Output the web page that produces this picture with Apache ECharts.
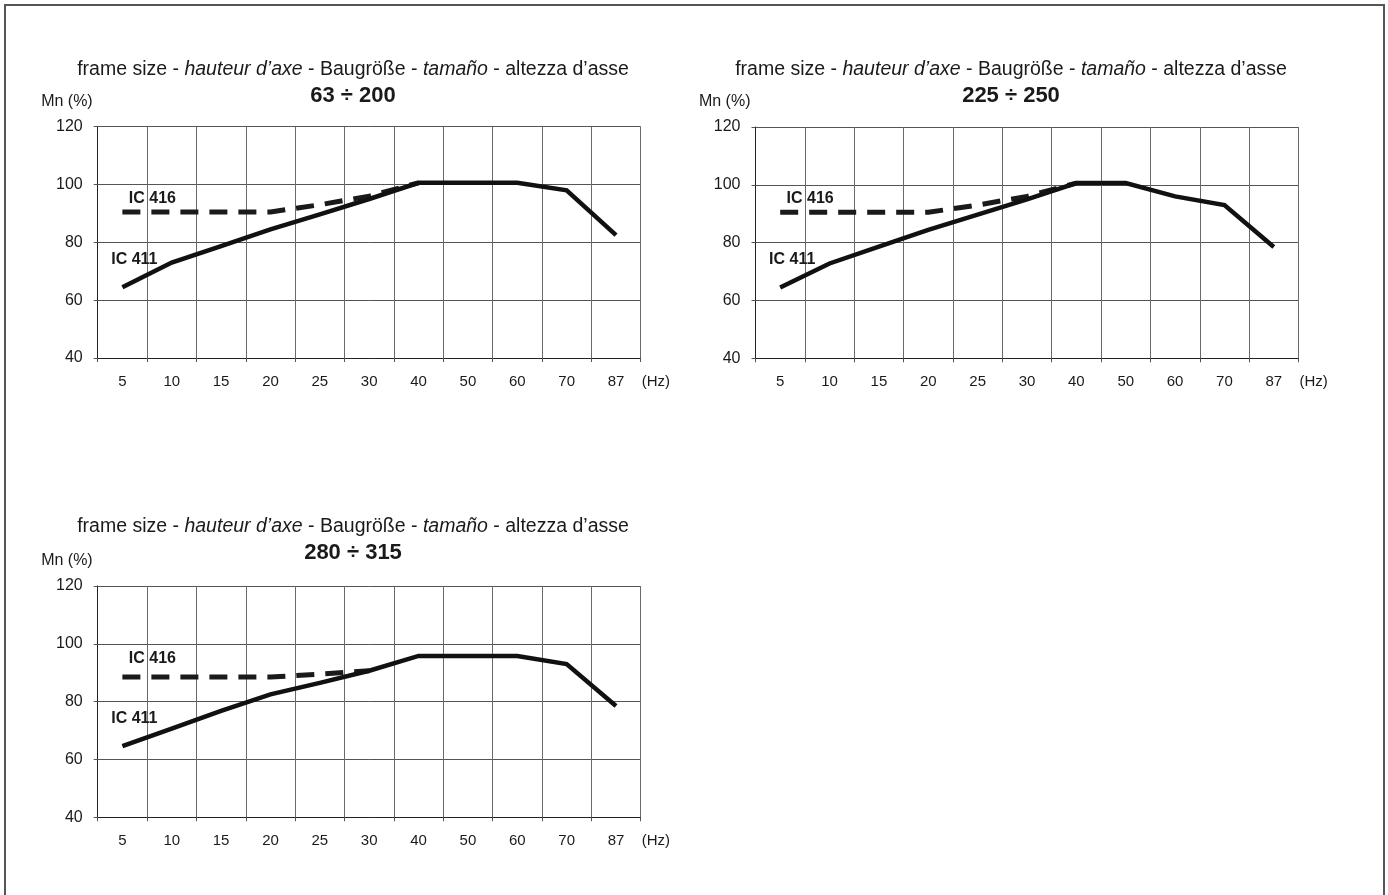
<!DOCTYPE html>
<html>
<head>
<meta charset="utf-8">
<script src="https://cdn.jsdelivr.net/npm/echarts@6/dist/echarts.min.js"></script>
<style>
  html, body { margin: 0; padding: 0; background: #fff; }
  #frame { position: absolute; left: 4px; top: 4px; width: 1377px; height: 900px; border: 2px solid #555; }
  #chart { position: absolute; left: 0; top: 0; width: 1388px; height: 895px; }
</style>
</head>
<body>
<div id="frame"></div>
<div id="chart"></div>
<script>
// ---- data ----
const categories = ['5', '10', '15', '20', '25', '30', '40', '50', '60', '70', '87'];
const yMin = 40, yMax = 120, yStep = 20;

const frameRanges = ['63 ÷ 200', '225 ÷ 250', '280 ÷ 315'];

const ic411_63_200  = [64.5, 73.0, 78.7, 84.5, 89.7, 95.0, 100.6, 100.6, 100.6, 98.0, 82.5];
const ic416_63_200  = [90.5, 90.5, 90.5, 90.5, 93.0, 96.0, 100.6, null, null, null, null];
const ic411_225_250 = [64.5, 72.8, 78.6, 84.4, 89.7, 95.0, 100.6, 100.6, 96.0, 93.0, 78.5];
const ic416_225_250 = [90.5, 90.5, 90.5, 90.5, 93.0, 96.0, 100.6, null, null, null, null];
const ic411_280_315 = [64.6, 70.7, 76.8, 82.5, 86.5, 90.7, 95.8, 95.8, 95.8, 93.0, 78.5];
const ic416_280_315 = [88.5, 88.5, 88.5, 88.5, 89.5, 90.7, null, null, null, null, null];

const seriesNames = ['IC 411', 'IC 416'];

// ---- layout ----
const panels = [
  { left: 97.7, top: 126.7, titleX: 353, titleTop: 60, subTop: 84.5, d411: ic411_63_200, d416: ic416_63_200, off416: [30, -13.5] },
  { left: 755.5, top: 127, titleX: 1011, titleTop: 60, subTop: 84.5, d411: ic411_225_250, d416: ic416_225_250, off416: [30, -13.5] },
  { left: 97.7, top: 586, titleX: 353, titleTop: 517, subTop: 542, d411: ic411_280_315, d416: ic416_280_315, off416: [30, -18.5] }
];
const plotW = 543, plotH = 231.3;
const FONT = '"Liberation Sans", Arial, Helvetica, sans-serif';

const titleRich = '{a|frame size - }{b|hauteur d’axe}{a| - Baugröße - }{b|tamaño}{a| - altezza d’asse}';

const option = {
  animation: false,
  textStyle: { fontFamily: FONT, color: '#1a1a1a' },
  title: [],
  grid: [],
  xAxis: [],
  yAxis: [],
  series: []
};

function firstLabel(arr, text, offset) {
  return arr.map((v, i) => {
    if (i !== 0) return v;
    return {
      value: v,
      label: {
        show: true, formatter: text, position: 'inside', offset: offset,
        fontFamily: FONT, fontSize: 16, fontWeight: 'bold', color: '#1a1a1a'
      }
    };
  });
}

panels.forEach((p, k) => {
  option.title.push({
    text: titleRich,
    left: p.titleX, top: p.titleTop, textAlign: 'center', padding: 0,
    textStyle: {
      fontFamily: FONT, fontSize: 19.5, fontWeight: 'normal', color: '#1a1a1a',
      rich: {
        a: { fontFamily: FONT, fontSize: 19.5, color: '#1a1a1a' },
        b: { fontFamily: FONT, fontSize: 19.5, fontStyle: 'italic', color: '#1a1a1a' }
      }
    }
  });
  option.title.push({
    text: frameRanges[k],
    left: p.titleX, top: p.subTop, textAlign: 'center', padding: 0,
    textStyle: { fontFamily: FONT, fontSize: 22, fontWeight: 'bold', color: '#1a1a1a' }
  });
  option.grid.push({ left: p.left, top: p.top, width: plotW, height: plotH, containLabel: false });
  option.xAxis.push({
    type: 'category', gridIndex: k, data: categories, boundaryGap: true,
    name: '(Hz)', nameLocation: 'end', nameGap: 1,
    nameTextStyle: { fontFamily: FONT, fontSize: 15, color: '#1a1a1a', verticalAlign: 'top', align: 'left', padding: [16, 0, 0, 0] },
    axisLine: { show: true, lineStyle: { color: '#222', width: 1 } },
    axisTick: { show: true, length: 4, lineStyle: { color: '#555' } },
    axisLabel: { fontFamily: FONT, fontSize: 15, color: '#1a1a1a', margin: 16, interval: 0 },
    splitLine: { show: true, interval: 0, lineStyle: { color: '#6a6a6a', width: 1 } }
  });
  option.yAxis.push({
    type: 'value', gridIndex: k, min: yMin, max: yMax, interval: yStep,
    name: 'Mn (%)', nameLocation: 'end', nameGap: 17,
    nameTextStyle: { fontFamily: FONT, fontSize: 16, color: '#1a1a1a', align: 'right', padding: [0, 5, 0, 0] },
    axisLine: { show: true, lineStyle: { color: '#222', width: 1 } },
    axisTick: { show: true, length: 4, lineStyle: { color: '#555' } },
    axisLabel: { fontFamily: FONT, fontSize: 16, color: '#1a1a1a', margin: 15 },
    splitLine: { show: true, lineStyle: { color: '#555', width: 1 } }
  });
  option.series.push({
    name: seriesNames[1], type: 'line', xAxisIndex: k, yAxisIndex: k,
    data: firstLabel(p.d416, seriesNames[1], p.off416),
    symbol: 'circle', symbolSize: 0, showSymbol: true, connectNulls: false,
    lineStyle: { color: '#1a1a1a', width: 5, type: [18, 11], cap: 'butt' },
    itemStyle: { color: '#1a1a1a' },
    emphasis: { disabled: true }, silent: true, z: 2
  });
  option.series.push({
    name: seriesNames[0], type: 'line', xAxisIndex: k, yAxisIndex: k,
    data: firstLabel(p.d411, seriesNames[0], [12, -28]),
    symbol: 'circle', symbolSize: 0, showSymbol: true,
    lineStyle: { color: '#111', width: 4.5, type: 'solid', cap: 'butt', join: 'miter' },
    itemStyle: { color: '#111' },
    emphasis: { disabled: true }, silent: true, z: 3
  });
});

const chart = echarts.init(document.getElementById('chart'), null, { renderer: 'canvas' });
chart.setOption(option);
</script>
</body>
</html>
